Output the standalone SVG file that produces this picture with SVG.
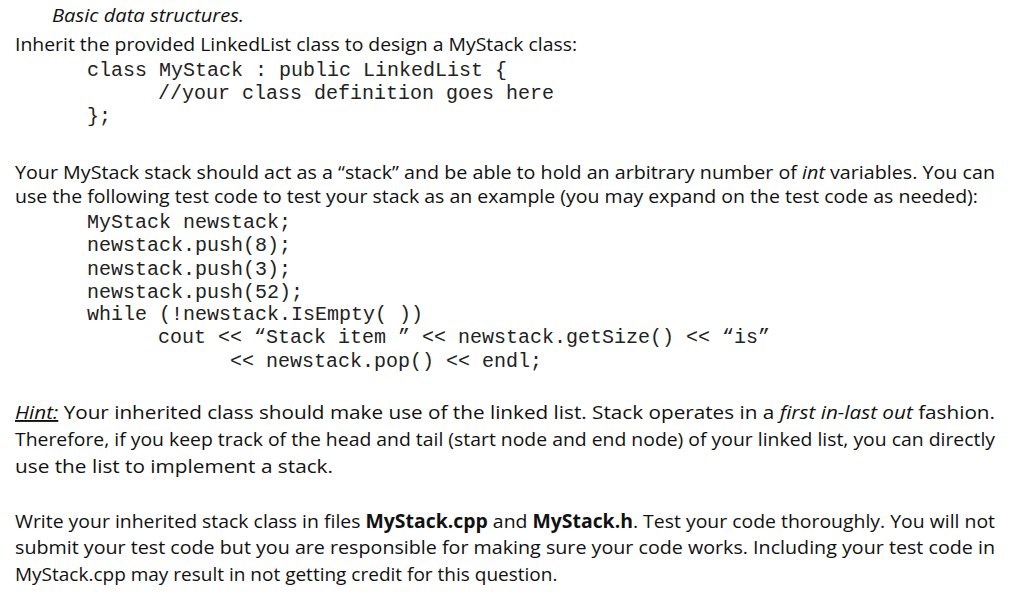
<svg xmlns="http://www.w3.org/2000/svg" width="1024" height="603" viewBox="0 0 1024 603">
<style>
.b{font-family:"Open Sans","Liberation Sans",sans-serif;font-size:19px;fill:#111}
.c{font-family:"Liberation Mono",monospace;font-size:20px;fill:#222}
.i{font-style:italic}
.w{font-weight:bold}
</style>
<rect width="1024" height="603" fill="#fff"/>
<text class="b i" x="52" y="22" textLength="192" lengthAdjust="spacingAndGlyphs">Basic data structures.</text>
<text class="b" x="15" y="51" textLength="562" lengthAdjust="spacingAndGlyphs">Inherit the provided LinkedList class to design a MyStack class:</text>
<text class="c" x="87" y="76">class MyStack : public LinkedList {</text>
<text class="c" x="158" y="99">//your class definition goes here</text>
<text class="c" x="87" y="122">};</text>
<text class="b" x="15" y="179" textLength="980" lengthAdjust="spacingAndGlyphs">Your MyStack stack should act as a “stack” and be able to hold an arbitrary number of <tspan class="i">int</tspan> variables. You can</text>
<text class="b" x="15" y="203" textLength="963" lengthAdjust="spacingAndGlyphs">use the following test code to test your stack as an example (you may expand on the test code as needed):</text>
<text class="c" x="87" y="228">MyStack newstack;</text>
<text class="c" x="87" y="251">newstack.push(8);</text>
<text class="c" x="87" y="275">newstack.push(3);</text>
<text class="c" x="87" y="298">newstack.push(52);</text>
<text class="c" x="87" y="320">while (!newstack.IsEmpty( ))</text>
<text class="c" x="158" y="343">cout &lt;&lt; “Stack item ” &lt;&lt; newstack.getSize() &lt;&lt; “is”</text>
<text class="c" x="230" y="367">&lt;&lt; newstack.pop() &lt;&lt; endl;</text>
<text class="b" x="15" y="419" textLength="980" lengthAdjust="spacingAndGlyphs"><tspan class="i" text-decoration="underline">Hint:</tspan> Your inherited class should make use of the linked list. Stack operates in a <tspan class="i">first in-last out</tspan> fashion.</text>
<text class="b" x="15" y="446" textLength="980" lengthAdjust="spacingAndGlyphs">Therefore, if you keep track of the head and tail (start node and end node) of your linked list, you can directly</text>
<text class="b" x="15" y="473" textLength="318" lengthAdjust="spacingAndGlyphs">use the list to implement a stack.</text>
<text class="b" x="15" y="528" textLength="980" lengthAdjust="spacingAndGlyphs">Write your inherited stack class in files <tspan class="w">MyStack.cpp</tspan> and <tspan class="w">MyStack.h</tspan>. Test your code thoroughly. You will not</text>
<text class="b" x="15" y="554" textLength="980" lengthAdjust="spacingAndGlyphs">submit your test code but you are responsible for making sure your code works. Including your test code in</text>
<text class="b" x="15" y="581">MyStack.cpp may result in not getting credit for this question.</text>
</svg>
